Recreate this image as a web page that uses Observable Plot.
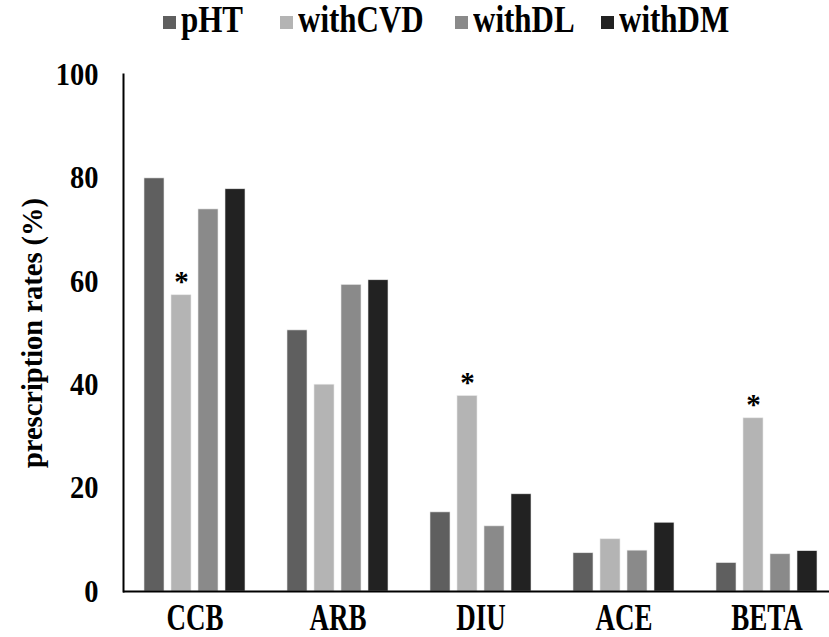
<!DOCTYPE html>
<html><head><meta charset="utf-8">
<script src="https://cdn.jsdelivr.net/npm/d3@7"></script>
<script src="https://cdn.jsdelivr.net/npm/@observablehq/plot@0.6"></script>
<style>
body{margin:0;background:#fff;font-family:"Liberation Serif","Times New Roman",serif;overflow:hidden}
#legend{position:relative;height:45px;font-weight:bold;font-size:31px;color:#000}
.sw{position:absolute;width:13px;height:13px;top:16px}
.lt{position:absolute;top:4px;line-height:31px;display:inline-block;transform:scaleY(1.2);transform-origin:left center}
</style></head><body>
<div id="legend"></div><div id="chart"></div>
<script>
const categories = ["CCB","ARB","DIU","ACE","BETA"];
const series = ["pHT","withCVD","withDL","withDM"];
const colors = ["#5f5f5f","#b4b4b4","#8a8a8a","#222222"];
const pHT =     [79.9, 50.5, 15.3, 7.4, 5.5];
const withCVD = [57.3, 40.0, 37.8, 10.1, 33.5];
const withDL =  [73.9, 59.3, 12.6, 7.9, 7.2];
const withDM =  [77.8, 60.2, 18.8, 13.3, 7.8];
const starredCats = ["CCB","DIU","BETA"];
const starredSeries = "withCVD";
const yTicks = [0,20,40,60,80,100];
const yLabel = "prescription rates (%)";
const legendLeft = [163, 280, 455, 601]; // legend item x positions (layout)

const valuesBySeries = {pHT, withCVD, withDL, withDM};
const data = [];
categories.forEach((c,i)=>series.forEach(s=>data.push({cat:c, series:s, value:valuesBySeries[s][i]})));
const stars = data.filter(d=>starredCats.includes(d.cat) && d.series===starredSeries);

const leg = document.getElementById("legend");
series.forEach((s,i)=>{
  const sw=document.createElement("div");sw.className="sw";sw.style.background=colors[i];sw.style.left=legendLeft[i]+"px";
  const t=document.createElement("span");t.className="lt";t.textContent=s;t.style.left=(legendLeft[i]+18)+"px";
  leg.append(sw,t);
});

const W=829,H=592,ML=122,MT=29,MB=46;
const step=143.4;
const chart = Plot.plot({
  width:W, height:H, marginLeft:ML, marginRight:0, marginTop:MT, marginBottom:MB,
  style:{fontFamily:"'Liberation Serif','Times New Roman',serif", fontWeight:"bold", color:"#000", background:"#fff"},
  fx:{domain:categories, range:[ML, ML+step*5], padding:0, label:null},
  x:{domain:series, paddingInner:0.27, paddingOuter:0.742, axis:null},
  y:{domain:[0,100], label:null},
  color:{domain:series, range:colors},
  marks:[
    Plot.barY(data,{fx:"cat", x:"series", y:"value", fill:"series", stroke:"#e8e8e8", strokeWidth:0.6}),
    Plot.ruleY([0],{stroke:"#000", strokeWidth:2}),
    Plot.frame({anchor:"left", facetAnchor:"left", stroke:"#000", strokeWidth:2}),
    Plot.text(stars,{fx:"cat", x:"series", y:"value", text:()=>"*", lineAnchor:"bottom", dy:-4, fontSize:29, fontWeight:"bold", fill:"#000"}),
    Plot.axisY({ticks:yTicks, tickSize:0, tickPadding:25, fontSize:28.5, fontWeight:"bold", label:yLabel, labelAnchor:"center", labelOffset:102, labelArrow:"none"}),
    Plot.axisFx({anchor:"bottom", tickSize:0, tickPadding:11, fontSize:27, fontWeight:"bold", label:null})
  ]
});
d3.select(chart).selectAll("[aria-label^='fx-axis tick label'] text").each(function(){
  const tr=this.getAttribute("transform");
  if(tr) this.setAttribute("transform", tr+" scale(1,1.42)");
});
d3.select(chart).selectAll("[aria-label^='y-axis tick label'] text").each(function(){
  const tr=this.getAttribute("transform");
  if(tr) this.setAttribute("transform", tr+" scale(1,1.12)");
});
document.getElementById("chart").append(chart);
</script>
</body></html>
